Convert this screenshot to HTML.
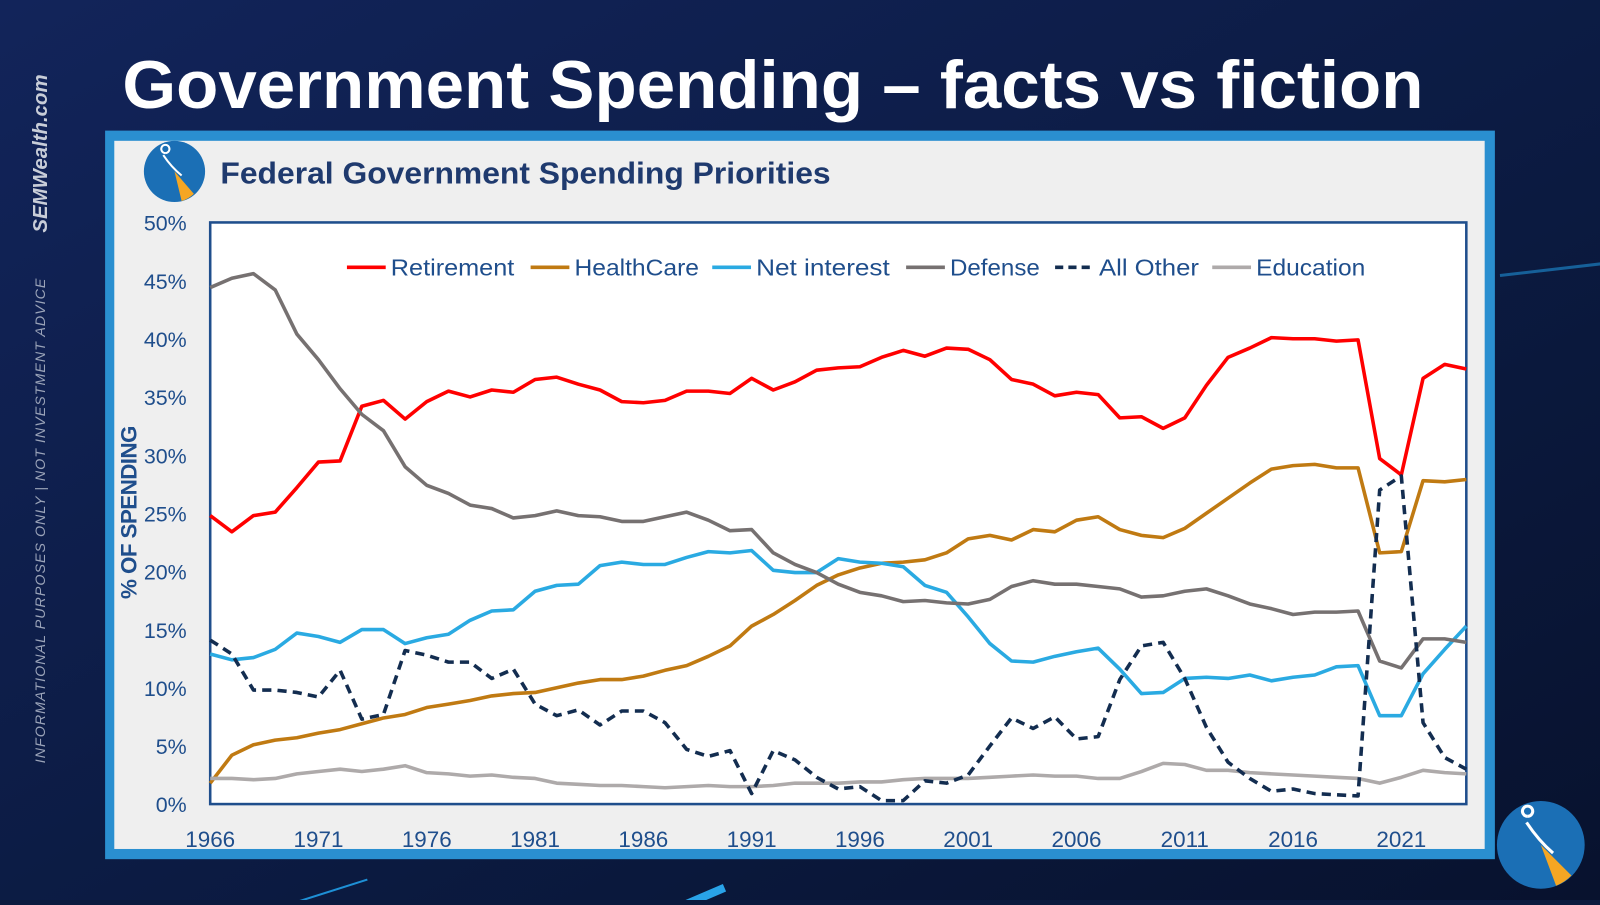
<!DOCTYPE html>
<html><head><meta charset="utf-8"><style>
body{margin:0;width:1600px;height:900px;overflow:hidden;background:#0b1a3e;font-family:"Liberation Sans",sans-serif}
</style></head><body>
<svg id="s" width="1600" height="900" xmlns="http://www.w3.org/2000/svg">
<defs>
<linearGradient id="bg" x1="0" y1="0" x2="1" y2="1"><stop offset="0" stop-color="#12245a"/><stop offset="0.6" stop-color="#0b1a40"/><stop offset="1" stop-color="#08122e"/></linearGradient>
</defs>
<rect width="1600" height="900" fill="url(#bg)"/>
<g transform="scale(1.0204)">
<line x1="1470" y1="270" x2="1600" y2="255" stroke="#1e90d6" stroke-width="3" opacity="0.6"/>
<line x1="240" y1="900" x2="360" y2="862" stroke="#1e90d6" stroke-width="2"/>
<line x1="640" y1="900" x2="710" y2="870" stroke="#29a3e8" stroke-width="8"/>
<text x="120" y="106" fill="#fff" font-size="66" font-weight="bold" textLength="1275" lengthAdjust="spacingAndGlyphs">Government Spending – facts vs fiction</text>
<text transform="translate(46,228) rotate(-90)" fill="#c8cdd8" font-size="20" font-weight="bold" font-style="italic">SEMWealth.com</text>
<text transform="translate(44,748) rotate(-90)" fill="#9aa3b8" font-size="14" font-style="italic" textLength="475">INFORMATIONAL PURPOSES ONLY | NOT INVESTMENT ADVICE</text>
<rect x="103" y="128" width="1362" height="714" fill="#2a8fd0"/>
<rect x="112" y="138" width="1343" height="694" fill="#efefef"/>
<g>
<circle cx="171" cy="168" r="30" fill="#1b6fb5"/><path d="M171 168 L190 190 A30 30 0 0 1 178 197 Z" fill="#f5a623"/>
<path d="M160 152 q8 12 18 20 M162 150 a4 4 0 1 1 0.1 0" stroke="#fff" stroke-width="2" fill="none"/></g>
<text x="216" y="180" fill="#1f3a6e" font-size="30" font-weight="bold" textLength="598" lengthAdjust="spacingAndGlyphs">Federal Government Spending Priorities</text>
<rect x="206" y="218" width="1231" height="570" fill="#fff" stroke="#1f4e8c" stroke-width="2.5"/>
<text transform="translate(134,502) rotate(-90)" text-anchor="middle" fill="#1f4e8c" font-size="22" font-weight="bold" textLength="170">% OF SPENDING</text>
<g id="yt"></g><g id="xt"></g><g id="lines"></g><g id="leg"></g>
<g>
<circle cx="1510" cy="828" r="43" fill="#1b6fb5"/><path d="M1510 828 L1540 858 A43 43 0 0 1 1525 868 Z" fill="#f5a623"/>
<path d="M1496 806 q12 18 26 30 M1497 800 a5 5 0 1 1 0.1 0" stroke="#fff" stroke-width="3" fill="none"/></g>
</g>
</svg>
<script>
const years=[];for(let y=1966;y<=2024;y++)years.push(y);
const retirement=[24.8,23.4,24.8,25.1,27.2,29.4,29.5,34.2,34.7,33.1,34.6,35.5,35.0,35.6,35.4,36.5,36.7,36.1,35.6,34.6,34.5,34.7,35.5,35.5,35.3,36.6,35.6,36.3,37.3,37.5,37.6,38.4,39.0,38.5,39.2,39.1,38.2,36.5,36.1,35.1,35.4,35.2,33.2,33.3,32.3,33.2,36.0,38.4,39.2,40.1,40.0,40.0,39.8,39.9,29.7,28.3,36.6,37.8,37.4];
const healthcare=[1.8,4.2,5.1,5.5,5.7,6.1,6.4,6.9,7.4,7.7,8.3,8.6,8.9,9.3,9.5,9.6,10.0,10.4,10.7,10.7,11.0,11.5,11.9,12.7,13.6,15.3,16.3,17.5,18.8,19.7,20.3,20.7,20.8,21.0,21.6,22.8,23.1,22.7,23.6,23.4,24.4,24.7,23.6,23.1,22.9,23.7,25.0,26.3,27.6,28.8,29.1,29.2,28.9,28.9,21.6,21.7,27.8,27.7,27.9];
const netInterest=[12.9,12.4,12.6,13.3,14.7,14.4,13.9,15.0,15.0,13.8,14.3,14.6,15.8,16.6,16.7,18.3,18.8,18.9,20.5,20.8,20.6,20.6,21.2,21.7,21.6,21.8,20.1,19.9,19.9,21.1,20.8,20.7,20.4,18.8,18.2,16.1,13.8,12.3,12.2,12.7,13.1,13.4,11.6,9.5,9.6,10.8,10.9,10.8,11.1,10.6,10.9,11.1,11.8,11.9,7.6,7.6,11.2,13.3,15.3];
const defense=[44.4,45.2,45.6,44.2,40.4,38.2,35.7,33.5,32.1,29.0,27.4,26.7,25.7,25.4,24.6,24.8,25.2,24.8,24.7,24.3,24.3,24.7,25.1,24.4,23.5,23.6,21.6,20.6,19.9,18.9,18.2,17.9,17.4,17.5,17.3,17.2,17.6,18.7,19.2,18.9,18.9,18.7,18.5,17.8,17.9,18.3,18.5,17.9,17.2,16.8,16.3,16.5,16.5,16.6,12.3,11.7,14.2,14.2,13.9];
const allOther=[14.1,12.9,9.8,9.8,9.6,9.2,11.5,7.3,7.7,13.2,12.8,12.2,12.2,10.8,11.6,8.6,7.6,8.1,6.8,8.0,8.0,7.0,4.7,4.1,4.6,0.9,4.6,3.8,2.3,1.3,1.5,0.3,0.3,2.0,1.8,2.5,5.0,7.4,6.5,7.5,5.6,5.8,10.7,13.6,13.9,10.8,6.6,3.6,2.2,1.1,1.3,0.9,0.8,0.7,27.0,28.2,7.0,4.0,3.0];
const education=[2.2,2.2,2.1,2.2,2.6,2.8,3.0,2.8,3.0,3.3,2.7,2.6,2.4,2.5,2.3,2.2,1.8,1.7,1.6,1.6,1.5,1.4,1.5,1.6,1.5,1.5,1.6,1.8,1.8,1.8,1.9,1.9,2.1,2.2,2.2,2.2,2.3,2.4,2.5,2.4,2.4,2.2,2.2,2.8,3.5,3.4,2.9,2.9,2.7,2.6,2.5,2.4,2.3,2.2,1.8,2.3,2.9,2.7,2.6];
const yTicks=[0,5,10,15,20,25,30,35,40,45,50];
const xTicks=[1966,1971,1976,1981,1986,1991,1996,2001,2006,2011,2016,2021];
const NS="http://www.w3.org/2000/svg";
const X=y=>206+(y-1966)*(1231/58);
const Y=v=>788-v*(570/50);
function mk(tag,attrs,parent){const e=document.createElementNS(NS,tag);for(const k in attrs)e.setAttribute(k,attrs[k]);parent.appendChild(e);return e;}
const yt=document.getElementById('yt'),xt=document.getElementById('xt'),lines=document.getElementById('lines'),leg=document.getElementById('leg');
yTicks.forEach(v=>{const t=mk('text',{x:183,y:Y(v)+8,'text-anchor':'end',fill:'#1f4e8c','font-size':21},yt);t.textContent=v+'%';

});
xTicks.forEach(v=>{const t=mk('text',{x:X(v),y:830,'text-anchor':'middle',fill:'#1f4e8c','font-size':22},xt);t.textContent=v;

});
const series=[
{name:'Retirement',data:retirement,c:'#ff0000',d:null,lx:340,tw:121,key:'retirement-line'},
{name:'HealthCare',data:healthcare,c:'#c07a12',d:null,lx:520,tw:122,key:'healthcare-line'},
{name:'Net interest',data:netInterest,c:'#2aaae2',d:null,lx:698,tw:131,key:'net-interest-line'},
{name:'Defense',data:defense,c:'#767171',d:null,lx:888,tw:88,key:'defense-line'},
{name:'Education',data:education,c:'#aeaaaa',d:null,lx:1188,tw:107,key:'education-line'},
{name:'All Other',data:allOther,c:'#132d50',d:'9 6',lx:1034,tw:98,key:'all-other-line'}];
series.forEach(s=>{
const pts=s.data.map((v,i)=>X(years[i]).toFixed(1)+','+Y(v).toFixed(1)).join(' ');
const p=mk('polyline',{points:pts,fill:'none',stroke:s.c,'stroke-width':3.5,'stroke-linejoin':'round'},lines);
if(s.d)p.setAttribute('stroke-dasharray',s.d);


const g=mk('g',{},leg);


const l=mk('line',{x1:s.lx,x2:s.lx+38,y1:262,y2:262,stroke:s.c,'stroke-width':3.5},g);
if(s.d)l.setAttribute('stroke-dasharray','8 5');
const t=mk('text',{x:s.lx+43,y:270,fill:'#1f4e8c','font-size':23,textLength:s.tw,lengthAdjust:'spacingAndGlyphs'},g);t.textContent=s.name;
});
</script>
</body></html>
